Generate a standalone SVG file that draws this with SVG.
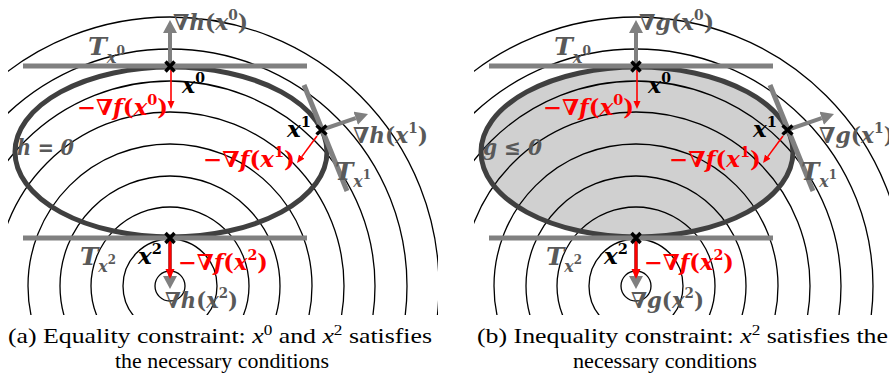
<svg xmlns="http://www.w3.org/2000/svg" width="889" height="377" viewBox="0 0 889 377">
<defs>
<style>
.ring{fill:none;stroke:#000;stroke-width:1.3}
.ell{fill:none;stroke:#404040;stroke-width:5}
.fillg{fill:#d0d0d0;stroke:none}
.tan{stroke:#808080;stroke-width:5;fill:none}
.grad{stroke:#808080;stroke-width:4;fill:none}
.red{stroke:#f00;stroke-width:1.6;fill:none}
.redb{stroke:#f00;stroke-width:3;fill:none}
.mark{stroke:#000;stroke-width:3.4;fill:none}
.lb{font-family:"DejaVu Serif",serif;font-weight:bold;font-size:22px}
.gl{fill:#595959}
.rl{fill:#f00}
.bl{fill:#000}
.i{font-style:italic}
.sup{font-size:14px}
.sub{font-size:16px}
.tt{font-size:25px;font-style:italic}
.cap{font-family:"Liberation Serif","Times New Roman",serif;font-size:21px;fill:#000}
</style>
<clipPath id="clip" clipPathUnits="userSpaceOnUse"><rect x="8" y="0" width="430" height="315"/></clipPath>
<marker id="ag" markerUnits="userSpaceOnUse" markerWidth="14" markerHeight="14" refX="0" refY="7" orient="auto"><path d="M0,0 L13,7 L0,14 z" fill="#808080"/></marker>
<marker id="ar" markerUnits="userSpaceOnUse" markerWidth="9" markerHeight="8" refX="0" refY="3.5" orient="auto"><path d="M0,0 L8,3.5 L0,7 z" fill="#f00"/></marker>
<marker id="arb" markerUnits="userSpaceOnUse" markerWidth="11" markerHeight="10" refX="0" refY="4.5" orient="auto"><path d="M0,0 L10,4.5 L0,9 z" fill="#f00"/></marker>
<g id="rings">
<circle class="ring" cx="170" cy="286" r="15"/>
<circle class="ring" cx="170" cy="286" r="47"/>
<circle class="ring" cx="170" cy="286" r="79"/>
<circle class="ring" cx="170" cy="286" r="110"/>
<circle class="ring" cx="170" cy="286" r="142"/>
<circle class="ring" cx="170" cy="286" r="174"/>
<circle class="ring" cx="170" cy="286" r="205"/>
<circle class="ring" cx="170" cy="286" r="237"/>
<circle class="ring" cx="170" cy="286" r="269"/>
</g>
</defs>

<!-- Panel (a) -->
<g id="panel-a">
<g id="a-contours" clip-path="url(#clip)"><use href="#rings"/></g>
<g id="a-constraint"><ellipse class="ell" cx="171" cy="152" rx="156" ry="85"/></g>
<g id="a-connectors">
<line class="tan" x1="23" y1="66" x2="307" y2="66"/>
<line class="tan" x1="23" y1="238" x2="307" y2="238"/>
<line class="tan" x1="304" y1="85" x2="347" y2="191"/>
<line class="grad" x1="170" y1="66" x2="170" y2="33" marker-end="url(#ag)"/>
<line class="grad" x1="321" y1="130" x2="355.7" y2="118.2" marker-end="url(#ag)"/>
<line class="grad" x1="170" y1="240" x2="170" y2="276" marker-end="url(#ag)"/>
<line class="red" x1="171" y1="70" x2="171" y2="101" marker-end="url(#ar)"/>
<line class="red" x1="317" y1="136" x2="301.8" y2="156.6" marker-end="url(#ar)"/>
<line class="redb" x1="170" y1="241" x2="170" y2="269" marker-end="url(#arb)"/>
</g>
<g id="a-x0"><path class="mark" d="M165.5,61.5 L174.5,71.5 M174.5,61.5 L165.5,71.5"/></g>
<g id="a-x1"><path class="mark" d="M316.5,125.5 L326.5,134.5 M326.5,125.5 L316.5,134.5"/></g>
<g id="a-x2"><path class="mark" d="M165.5,233 L174.5,243 M174.5,233 L165.5,243"/></g>
<g id="a-labels">
<text class="lb gl" x="173" y="30" textLength="75" lengthAdjust="spacingAndGlyphs">∇<tspan class="i">h</tspan>(<tspan class="i">x</tspan><tspan class="sup" dy="-10">0</tspan><tspan dy="10">)</tspan></text>
<text class="lb gl" x="88" y="55" textLength="37" lengthAdjust="spacingAndGlyphs"><tspan class="tt">T</tspan><tspan class="sub i" dy="8">x</tspan><tspan font-size="12" dy="-8">0</tspan></text>
<text class="lb bl" x="182" y="93" textLength="23" lengthAdjust="spacingAndGlyphs"><tspan class="i">x</tspan><tspan class="sup" dy="-10">0</tspan></text>
<text class="lb rl" x="77" y="115" textLength="91" lengthAdjust="spacingAndGlyphs">−∇<tspan class="i">f</tspan>(<tspan class="i">x</tspan><tspan class="sup" dy="-10">0</tspan><tspan dy="10">)</tspan></text>
<text class="lb gl" x="17" y="155" textLength="57" lengthAdjust="spacingAndGlyphs"><tspan class="i">h</tspan> = <tspan class="i">0</tspan></text>
<text class="lb bl" x="287" y="137" textLength="24" lengthAdjust="spacingAndGlyphs"><tspan class="i">x</tspan><tspan class="sup" dy="-10">1</tspan></text>
<text class="lb gl" x="353" y="143" textLength="75" lengthAdjust="spacingAndGlyphs">∇<tspan class="i">h</tspan>(<tspan class="i">x</tspan><tspan class="sup" dy="-10">1</tspan><tspan dy="10">)</tspan></text>
<text class="lb gl" x="335" y="180" textLength="36" lengthAdjust="spacingAndGlyphs"><tspan class="tt">T</tspan><tspan class="sub i" dy="7">x</tspan><tspan font-size="12" dy="-8">1</tspan></text>
<text class="lb rl" x="203" y="167" textLength="92" lengthAdjust="spacingAndGlyphs">−∇<tspan class="i">f</tspan>(<tspan class="i">x</tspan><tspan class="sup" dy="-10">1</tspan><tspan dy="10">)</tspan></text>
<text class="lb gl" x="80" y="265" textLength="36" lengthAdjust="spacingAndGlyphs"><tspan class="tt">T</tspan><tspan class="sub i" dy="7">x</tspan><tspan font-size="12" dy="-8">2</tspan></text>
<text class="lb bl" x="138" y="264" textLength="24" lengthAdjust="spacingAndGlyphs"><tspan class="i">x</tspan><tspan class="sup" dy="-10">2</tspan></text>
<text class="lb rl" x="178" y="270" textLength="90" lengthAdjust="spacingAndGlyphs">−∇<tspan class="i">f</tspan>(<tspan class="i">x</tspan><tspan class="sup" dy="-10">2</tspan><tspan dy="10">)</tspan></text>
<text class="lb gl" x="165" y="308" textLength="73" lengthAdjust="spacingAndGlyphs">∇<tspan class="i">h</tspan>(<tspan class="i">x</tspan><tspan class="sup" dy="-10">2</tspan><tspan dy="10">)</tspan></text>
</g>
</g>

<!-- Panel (b) -->
<g id="panel-b" transform="translate(466,0)">
<g id="b-region"><ellipse class="fillg" cx="171" cy="152" rx="156" ry="85"/></g>
<g id="b-contours" clip-path="url(#clip)"><use href="#rings"/></g>
<g id="b-constraint"><ellipse class="ell" cx="171" cy="152" rx="156" ry="85"/></g>
<g id="b-connectors">
<line class="tan" x1="23" y1="66" x2="307" y2="66"/>
<line class="tan" x1="23" y1="238" x2="307" y2="238"/>
<line class="tan" x1="304" y1="85" x2="347" y2="191"/>
<line class="grad" x1="170" y1="66" x2="170" y2="33" marker-end="url(#ag)"/>
<line class="grad" x1="321" y1="130" x2="355.7" y2="118.2" marker-end="url(#ag)"/>
<line class="grad" x1="170" y1="240" x2="170" y2="276" marker-end="url(#ag)"/>
<line class="red" x1="171" y1="70" x2="171" y2="101" marker-end="url(#ar)"/>
<line class="red" x1="317" y1="136" x2="301.8" y2="156.6" marker-end="url(#ar)"/>
<line class="redb" x1="170" y1="241" x2="170" y2="269" marker-end="url(#arb)"/>
</g>
<g id="b-x0"><path class="mark" d="M165.5,61.5 L174.5,71.5 M174.5,61.5 L165.5,71.5"/></g>
<g id="b-x1"><path class="mark" d="M316.5,125.5 L326.5,134.5 M326.5,125.5 L316.5,134.5"/></g>
<g id="b-x2"><path class="mark" d="M165.5,233 L174.5,243 M174.5,233 L165.5,243"/></g>
<g id="b-labels">
<text class="lb gl" x="173" y="30" textLength="75" lengthAdjust="spacingAndGlyphs">∇<tspan class="i">g</tspan>(<tspan class="i">x</tspan><tspan class="sup" dy="-10">0</tspan><tspan dy="10">)</tspan></text>
<text class="lb gl" x="88" y="55" textLength="37" lengthAdjust="spacingAndGlyphs"><tspan class="tt">T</tspan><tspan class="sub i" dy="8">x</tspan><tspan font-size="12" dy="-8">0</tspan></text>
<text class="lb bl" x="182" y="93" textLength="23" lengthAdjust="spacingAndGlyphs"><tspan class="i">x</tspan><tspan class="sup" dy="-10">0</tspan></text>
<text class="lb rl" x="77" y="115" textLength="91" lengthAdjust="spacingAndGlyphs">−∇<tspan class="i">f</tspan>(<tspan class="i">x</tspan><tspan class="sup" dy="-10">0</tspan><tspan dy="10">)</tspan></text>
<text class="lb gl" x="17" y="155" textLength="59" lengthAdjust="spacingAndGlyphs"><tspan class="i">g</tspan> ≤ <tspan class="i">0</tspan></text>
<text class="lb bl" x="287" y="137" textLength="24" lengthAdjust="spacingAndGlyphs"><tspan class="i">x</tspan><tspan class="sup" dy="-10">1</tspan></text>
<text class="lb gl" x="353" y="143" textLength="75" lengthAdjust="spacingAndGlyphs">∇<tspan class="i">g</tspan>(<tspan class="i">x</tspan><tspan class="sup" dy="-10">1</tspan><tspan dy="10">)</tspan></text>
<text class="lb gl" x="335" y="180" textLength="36" lengthAdjust="spacingAndGlyphs"><tspan class="tt">T</tspan><tspan class="sub i" dy="7">x</tspan><tspan font-size="12" dy="-8">1</tspan></text>
<text class="lb rl" x="203" y="167" textLength="92" lengthAdjust="spacingAndGlyphs">−∇<tspan class="i">f</tspan>(<tspan class="i">x</tspan><tspan class="sup" dy="-10">1</tspan><tspan dy="10">)</tspan></text>
<text class="lb gl" x="80" y="265" textLength="36" lengthAdjust="spacingAndGlyphs"><tspan class="tt">T</tspan><tspan class="sub i" dy="7">x</tspan><tspan font-size="12" dy="-8">2</tspan></text>
<text class="lb bl" x="138" y="264" textLength="24" lengthAdjust="spacingAndGlyphs"><tspan class="i">x</tspan><tspan class="sup" dy="-10">2</tspan></text>
<text class="lb rl" x="178" y="270" textLength="90" lengthAdjust="spacingAndGlyphs">−∇<tspan class="i">f</tspan>(<tspan class="i">x</tspan><tspan class="sup" dy="-10">2</tspan><tspan dy="10">)</tspan></text>
<text class="lb gl" x="165" y="308" textLength="73" lengthAdjust="spacingAndGlyphs">∇<tspan class="i">g</tspan>(<tspan class="i">x</tspan><tspan class="sup" dy="-10">2</tspan><tspan dy="10">)</tspan></text>
</g>
</g>

<!-- Captions -->
<g id="caption-a">
<text class="cap" x="8" y="343" textLength="424" lengthAdjust="spacingAndGlyphs">(a) Equality constraint: <tspan font-style="italic">x</tspan><tspan font-size="14" dy="-8">0</tspan><tspan dy="8"> and </tspan><tspan font-style="italic">x</tspan><tspan font-size="14" dy="-8">2</tspan><tspan dy="8"> satisfies</tspan></text>
<text class="cap" x="222" y="368" text-anchor="middle" textLength="214" lengthAdjust="spacingAndGlyphs">the necessary conditions</text>
</g>
<g id="caption-b">
<text class="cap" x="477" y="343" textLength="411" lengthAdjust="spacingAndGlyphs">(b) Inequality constraint: <tspan font-style="italic">x</tspan><tspan font-size="14" dy="-8">2</tspan><tspan dy="8"> satisfies the</tspan></text>
<text class="cap" x="665" y="368" text-anchor="middle" textLength="184" lengthAdjust="spacingAndGlyphs">necessary conditions</text>
</g>
</svg>
